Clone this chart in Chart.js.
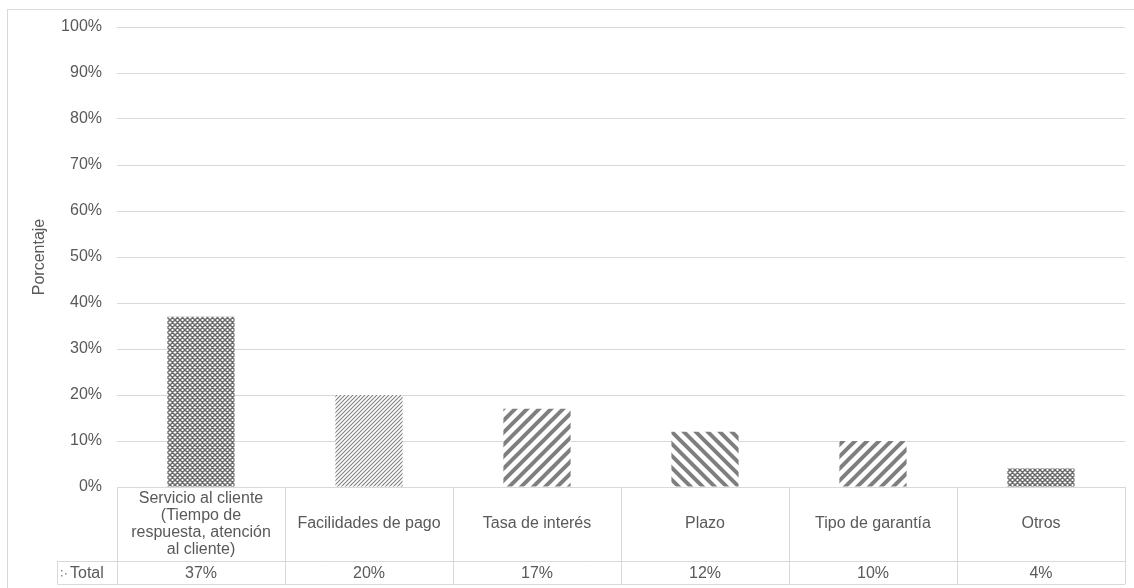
<!DOCTYPE html>
<html>
<head>
<meta charset="utf-8">
<title>Porcentaje por factor</title>
<script src="https://cdn.jsdelivr.net/npm/chart.js@4/dist/chart.umd.min.js"></script>
<style>
  body { margin: 0; background: #fff; }
  #wrap { position: relative; width: 1134px; height: 588px; }
</style>
</head>
<body>
<div id="wrap"><canvas id="chart"></canvas></div>
<script>
const categories = [
  ['Servicio al cliente', '(Tiempo de', 'respuesta, atención', 'al cliente)'],
  ['Facilidades de pago'],
  ['Tasa de interés'],
  ['Plazo'],
  ['Tipo de garantía'],
  ['Otros'],
];
const seriesName = 'Total';
const totals = [37, 20, 17, 12, 10, 4];
const yMax = 100;
const yStep = 10;

const FONT = '"Liberation Sans", Arial, sans-serif';
const TEXT = '#595959';
const LINE = '#d9d9d9';

// hatch fill for each bar, in the same order as the categories
const fillKinds = ['cross', 'lightUp', 'wideUp', 'wideDown', 'wideUp', 'cross'];

function makePattern(kind) {
  const s = kind === 'lightUp' ? 4 : kind === 'cross' ? 5 : 12;
  const c = document.createElement('canvas');
  c.width = c.height = s;
  const g = c.getContext('2d');
  g.fillStyle = '#fff';
  g.fillRect(0, 0, s, s);
  g.strokeStyle = kind === 'lightUp' ? '#808080' : kind === 'cross' ? '#6a6a6a' : '#7f7f7f';
  g.lineWidth = kind === 'lightUp' ? 1.1 : kind === 'cross' ? 1.5 : 4;
  g.beginPath();
  if (kind !== 'wideDown') {
    // "/" lines: x + y = k
    for (const k of [0, s, 2 * s]) {
      g.moveTo(-s, k + s);
      g.lineTo(k + s, -s);
    }
  }
  if (kind === 'wideDown' || kind === 'cross') {
    // "\" lines: y - x = k
    for (const k of [-s, 0, s]) {
      g.moveTo(-s, k - s);
      g.lineTo(2 * s, k + 2 * s);
    }
  }
  g.stroke();
  return g.createPattern(c, 'repeat');
}

const patterns = fillKinds.map(makePattern);

// light frame round the whole chart
const frame = {
  id: 'frame',
  beforeDraw(chart) {
    const ctx = chart.ctx;
    ctx.save();
    ctx.strokeStyle = LINE;
    ctx.lineWidth = 1;
    ctx.strokeRect(7.5, 9.5, chart.width + 20, chart.height + 20);
    ctx.restore();
  },
};

// data table under the plot: category names and the Total row
const dataTable = {
  id: 'dataTable',
  afterDraw(chart) {
    const { ctx, chartArea } = chart;
    const x = chart.scales.x;
    const band = chartArea.width / categories.length;
    const top = chartArea.bottom;
    const rowSplit = top + 74;
    const bottom = rowSplit + 23;
    const keyLeft = 57.5;

    ctx.save();
    ctx.strokeStyle = LINE;
    ctx.lineWidth = 1;
    ctx.beginPath();
    ctx.moveTo(chartArea.left, top + 0.5);
    ctx.lineTo(chartArea.right, top + 0.5);
    ctx.moveTo(keyLeft, rowSplit + 0.5);
    ctx.lineTo(chartArea.right, rowSplit + 0.5);
    ctx.moveTo(keyLeft, bottom + 0.5);
    ctx.lineTo(chartArea.right, bottom + 0.5);
    for (let i = 0; i <= categories.length; i++) {
      const px = Math.round(chartArea.left + band * i) + 0.5;
      ctx.moveTo(px, top);
      ctx.lineTo(px, bottom);
    }
    ctx.moveTo(keyLeft, rowSplit);
    ctx.lineTo(keyLeft, bottom);
    ctx.stroke();

    ctx.fillStyle = TEXT;
    ctx.font = '16px ' + FONT;
    ctx.textAlign = 'center';
    ctx.textBaseline = 'middle';
    const lh = 17;
    categories.forEach((lines, i) => {
      const cx = x.getPixelForValue(i);
      const y0 = (top + rowSplit) / 2 - (lines.length - 1) * lh / 2;
      lines.forEach((t, j) => ctx.fillText(t, cx, y0 + j * lh));
      ctx.fillText(totals[i] + '%', cx, (rowSplit + bottom) / 2 + 1);
    });

    // legend key + series name
    ctx.fillStyle = '#8a8a8a';
    for (const [kx, ky] of [[61, 570], [61, 575], [65, 573]]) {
      ctx.fillRect(kx, ky, 1.5, 1.5);
    }
    ctx.fillStyle = TEXT;
    ctx.textAlign = 'left';
    ctx.fillText(seriesName, 70, (rowSplit + bottom) / 2 + 1);
    ctx.restore();
  },
};

new Chart(document.getElementById('chart'), {
  type: 'bar',
  data: {
    labels: categories.map(c => c.join(' ')),
    datasets: [{
      label: seriesName,
      data: totals,
      backgroundColor: patterns,
      borderWidth: 0,
      barPercentage: 0.4,
      categoryPercentage: 1,
    }],
  },
  options: {
    responsive: true,
    maintainAspectRatio: false,
    animation: false,
    layout: { padding: { left: 26, top: 27, right: 9, bottom: 101 } },
    plugins: {
      legend: { display: false },
      tooltip: { enabled: false },
    },
    scales: {
      x: { display: false },
      y: {
        min: 0,
        max: yMax,
        ticks: {
          stepSize: yStep,
          callback: v => v + '%',
          color: TEXT,
          font: { family: FONT, size: 16 },
          padding: 15,
        },
        grid: { color: LINE, drawTicks: false },
        border: { display: false },
        title: {
          display: true,
          text: 'Porcentaje',
          color: TEXT,
          font: { family: FONT, size: 16 },
        },
        afterFit(scale) {
          scale.width = 91;
        },
      },
    },
  },
  plugins: [frame, dataTable],
});
</script>
</body>
</html>
